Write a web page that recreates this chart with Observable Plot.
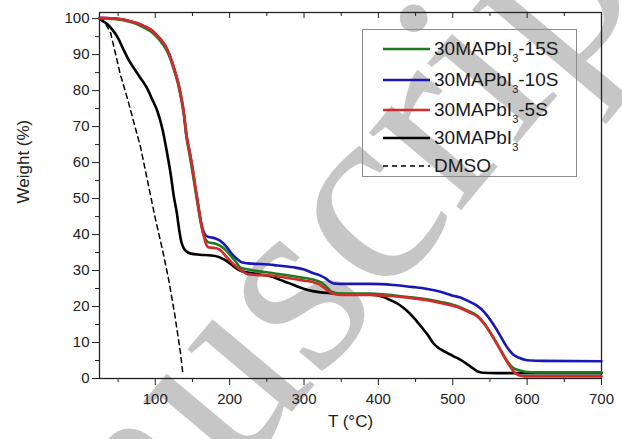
<!DOCTYPE html>
<html><head><meta charset="utf-8">
<script src="https://cdn.jsdelivr.net/npm/d3@7"></script>
<script src="https://cdn.jsdelivr.net/npm/@observablehq/plot@0.6"></script>
<style>
body{margin:0;background:#fff;font-family:"Liberation Sans",Arial,sans-serif;}
#wrap{position:relative;width:622px;height:439px;overflow:hidden;background:#fff;}
#legend{position:absolute;left:362px;top:29px;width:215px;height:148px;border:1px solid #8c8c8c;box-sizing:border-box;}
.row{position:absolute;left:0;height:20px;line-height:20px;white-space:nowrap;}
.row svg{position:absolute;left:20px;top:0;}
.row span{position:absolute;left:71px;top:0;font-size:19px;color:#1a1a1a;}
.row sub{font-size:11px;vertical-align:-7px;line-height:0;}
</style>
</head><body>
<div id="wrap"></div>
<script>
// ---- data ----
const xTicks = [100, 200, 300, 400, 500, 600, 700];
const xMinor = [50, 150, 250, 350, 450, 550, 650];
const yTicks = [0, 10, 20, 30, 40, 50, 60, 70, 80, 90, 100];
const yMinor = [5, 15, 25, 35, 45, 55, 65, 75, 85, 95];

const blackT = [25, 30, 35, 42, 50, 57, 64, 72, 80, 88, 96, 103, 110, 116, 121, 125, 129, 132, 135, 138, 142, 148, 160, 175, 185, 193, 202, 212, 223, 240, 255, 268, 280, 292, 305, 320, 335, 350, 370, 390, 405, 418, 428, 438, 448, 458, 466, 474, 480, 490, 500, 512, 524, 533, 540, 560, 600, 650, 700];
const blackW = [100, 99.2, 98.6, 97, 94.6, 91.5, 88.6, 86, 83.5, 81, 77.5, 74.2, 69, 62.5, 56.4, 50.5, 46, 41.5, 38, 36.3, 35.3, 34.7, 34.4, 34.2, 33.8, 33.0, 31.7, 30.2, 29.5, 28.9, 28.4, 27.4, 26.5, 25.5, 24.6, 24.0, 23.7, 23.5, 23.4, 23.3, 22.8, 21.6, 20.5, 18.9, 16.8, 14.3, 12.2, 9.8, 8.6, 7.4, 6.3, 5.0, 3.3, 2.0, 1.6, 1.5, 1.5, 1.5, 1.5];

const redT = [25, 40, 55, 64, 75, 85, 95, 103, 110, 116, 122, 127, 131, 135, 138, 142, 146, 150, 154, 158, 162, 165, 168, 171, 178, 185, 190, 196, 203, 210, 217, 224, 235, 254, 270, 285, 300, 312, 320, 327, 333, 339, 345, 360, 389, 410, 433, 450, 469, 485, 500, 512, 523, 532, 543, 554, 563, 572, 577, 581, 586, 590, 596, 610, 650, 700];
const redW = [100.2, 100.1, 99.8, 99.4, 98.8, 97.9, 96.8, 95.2, 93.5, 91.5, 88.3, 85, 82, 78, 74.4, 67.5, 63.2, 58.5, 53, 47.8, 42.8, 39.8, 37.5, 36.5, 36.3, 36, 35.2, 33.7, 32.2, 30.9, 29.8, 29.0, 28.8, 28.6, 28.2, 27.7, 27.2, 26.8, 26.2, 25.2, 24.3, 23.6, 23.3, 23.2, 23.2, 23.0, 22.6, 22.2, 21.6, 20.9, 20.2, 19.4, 18.3, 17.4, 15.0, 11.5, 8.3, 5.0, 3.4, 2.2, 1.2, 0.8, 0.6, 0.6, 0.6, 0.6];

const greenT = [25, 40, 55, 64, 75, 85, 95, 103, 110, 116, 122, 127, 131, 135, 138, 142, 146, 150, 154, 158, 162, 165, 168, 171, 180, 187, 194, 201, 208, 214, 222, 232, 250, 263, 280, 295, 307, 317, 324, 330, 335, 340, 345, 360, 389, 410, 433, 450, 469, 485, 500, 512, 523, 532, 543, 554, 563, 572, 577, 581, 586, 590, 597, 605, 620, 650, 700];
const greenW = [100.1, 100, 99.6, 99.2, 98.5, 97.5, 96.3, 94.7, 92.9, 90.9, 87.8, 84.5, 81.5, 77.5, 74, 67, 62.3, 57.4, 52.2, 47.1, 42.4, 39.9, 38.6, 37.9, 37.5, 36.9, 35.8, 34.2, 32.5, 30.9, 30.4, 30, 29.5, 29.1, 28.6, 28.1, 27.7, 27.2, 26.6, 25.5, 24.4, 23.9, 23.7, 23.6, 23.6, 23.3, 22.8, 22.4, 21.9, 21.2, 20.5, 19.6, 18.6, 17.6, 15.1, 11.6, 8.4, 5.2, 3.8, 3.0, 2.5, 2.2, 1.9, 1.75, 1.7, 1.7, 1.7];

const blueT = [25, 40, 55, 64, 75, 85, 95, 103, 110, 116, 122, 127, 131, 135, 138, 142, 146, 150, 154, 158, 162, 165, 168, 172, 180, 187, 195, 203, 210, 216, 225, 241, 260, 286, 300, 312, 322, 330, 335, 340, 350, 389, 420, 447, 465, 478, 490, 500, 509, 523, 532, 543, 554, 565, 572, 577, 582, 590, 597, 605, 620, 700];
const blueW = [100.2, 100.1, 99.8, 99.4, 98.8, 97.9, 96.8, 95.2, 93.5, 91.5, 88.3, 85, 82, 78, 74.4, 67.5, 63.2, 58.5, 53, 47.8, 43, 40.8, 39.7, 39.3, 39, 38.3, 36.8, 34.6, 33.2, 32.3, 32.0, 31.8, 31.5, 30.9, 30.3, 29.3, 28.6, 27.7, 26.9, 26.4, 26.3, 26.3, 26.0, 25.4, 24.9, 24.4, 23.7, 23.0, 22.6, 21.3, 20.3, 18.3, 15.2, 11.5, 9.0, 7.6, 6.5, 5.7, 5.2, 5.0, 4.9, 4.8];

const dmsoT = [25, 32, 40, 53, 63, 72, 80, 89, 100, 110, 118, 126, 134, 137];
const dmsoW = [100, 99, 96, 84.5, 77.5, 70.5, 64.5, 55.5, 44.5, 35.5, 27.5, 18, 7, 1.5];

const seriesNames = ["30MAPbI3-15S", "30MAPbI3-10S", "30MAPbI3-5S", "30MAPbI3", "DMSO"];
const seriesColors = ["#1f7a1f", "#1818b8", "#d42a2a", "#000000", "#000000"];
const watermarkText = "Accepted Manuscript";

// ---- build tables ----
const toRows = (T, W) => T.map((t, i) => ({t, w: W[i]}));
const black = toRows(blackT, blackW);
const red = toRows(redT, redW);
const green = toRows(greenT, greenW);
const blue = toRows(blueT, blueW);
const dmso = toRows(dmsoT, dmsoW);

const plotH = 439 - 12 - 61;
const lineOpts = (c) => ({x: "t", y: "w", stroke: c, strokeWidth: 2.6, curve: "monotone-x"});

const chart = Plot.plot({
  width: 622, height: 439,
  marginLeft: 99, marginRight: 21, marginTop: 12, marginBottom: 61,
  style: {background: "transparent", fontFamily: "'Liberation Sans', Arial, sans-serif", fontSize: "15px", color: "#222"},
  x: {domain: [25, 700]},
  y: {domain: [0, 101.7]},
  marks: [
    Plot.text([watermarkText], {text: d => d, frameAnchor: "top-left", dx: 592, dy: -77, rotate: -50,
      textAnchor: "end", lineAnchor: "bottom", fontSize: 262, fontFamily: "'Liberation Serif', 'Times New Roman', serif", fill: "#c6c6c6"}),
    Plot.axisX(xTicks, {tickSize: 7, tickPadding: 8, fontSize: 15, label: null, stroke: "#222"}),
    Plot.axisX(xMinor, {tickSize: 4, tickFormat: () => "", label: null, stroke: "#222"}),
    Plot.tickX(xTicks, {x: d => d, insetBottom: plotH - 6, stroke: "#222"}),
    Plot.tickX(xMinor, {x: d => d, insetBottom: plotH - 4, stroke: "#222"}),
    Plot.axisY(yTicks, {tickSize: 7, tickPadding: 3, fontSize: 15, label: null, stroke: "#222"}),
    Plot.axisY(yMinor, {tickSize: 4, tickFormat: () => "", label: null, stroke: "#222"}),
    Plot.frame({stroke: "#222", strokeWidth: 1.3}),
    Plot.line(dmso, {x: "t", y: "w", stroke: seriesColors[4], strokeWidth: 1.5, strokeDasharray: "5,4"}),
    Plot.line(black, lineOpts(seriesColors[3])),
    Plot.line(blue, lineOpts(seriesColors[1])),
    Plot.line(green, lineOpts(seriesColors[0])),
    Plot.line(red, lineOpts(seriesColors[2])),
    Plot.text(["T (°C)"], {text: d => d, frameAnchor: "bottom", dy: 48, fontSize: 17, fill: "#222"}),
    Plot.text(["Weight (%)"], {text: d => d, frameAnchor: "left", dx: -76, dy: 8, rotate: -90, fontSize: 17, fill: "#222"})
  ]
});

const wrap = document.getElementById("wrap");
wrap.appendChild(chart);

// ---- legend (inside plot area) ----
const legend = document.createElement("div");
legend.id = "legend";
const rowY = [48, 79, 109, 137, 165];
seriesNames.forEach((name, i) => {
  const row = document.createElement("div");
  row.className = "row";
  row.style.top = (rowY[i] - 29 - 10) + "px";
  const dash = i === 4 ? 'stroke-dasharray="5,4" stroke-width="1.5"' : 'stroke-width="2.6"';
  row.innerHTML = `<svg width="47" height="20"><line x1="0" x2="47" y1="10" y2="10" stroke="${seriesColors[i]}" ${dash}/></svg>`;
  const span = document.createElement("span");
  const m = name.match(/^(30MAPbI)3(.*)$/);
  if (m) span.innerHTML = `${m[1]}<sub>3</sub>${m[2]}`;
  else span.textContent = name;
  row.appendChild(span);
  legend.appendChild(row);
});
wrap.appendChild(legend);
</script>
</body></html>
